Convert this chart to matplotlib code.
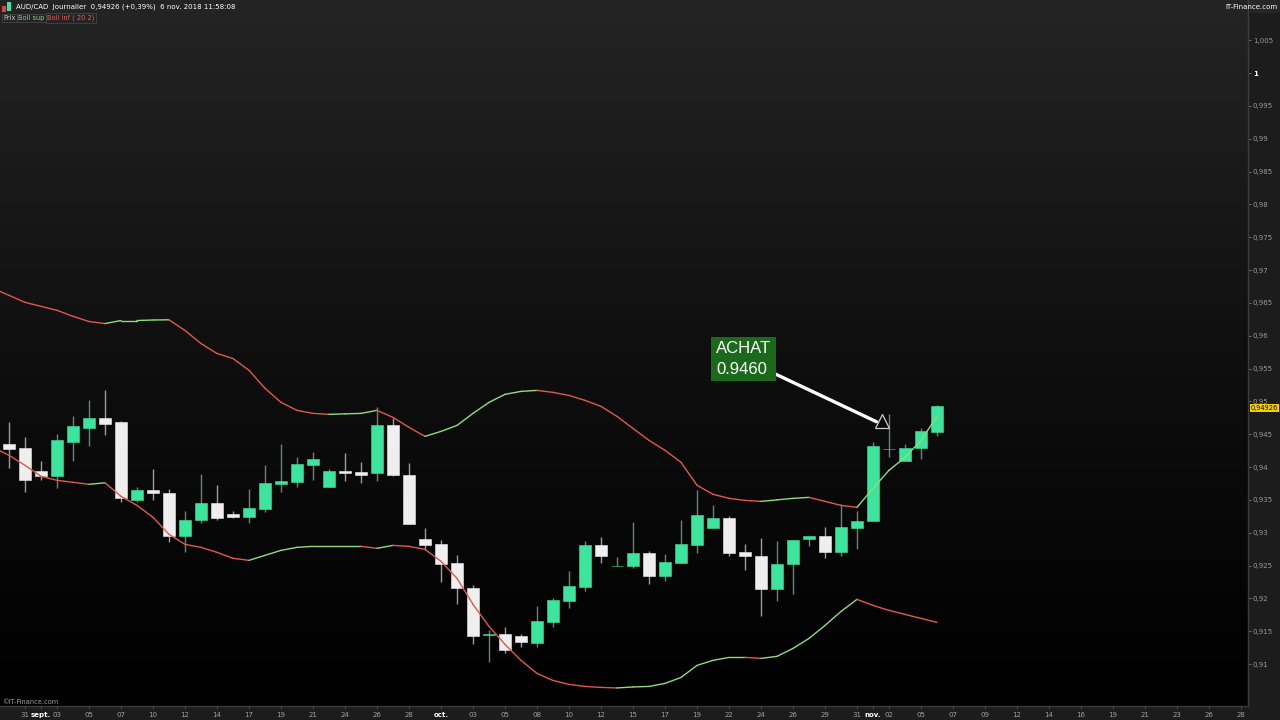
import matplotlib
matplotlib.use('Agg')
import matplotlib.pyplot as plt
import numpy as np
from matplotlib.collections import LineCollection
from matplotlib.patches import Rectangle
from matplotlib.colors import LinearSegmentedColormap
import matplotlib.transforms as mtransforms

plt.rcParams['font.family'] = ['DejaVu Sans']

# ---------------- data ----------------
opens = [0.94345, 0.94284, 0.93935, 0.93859, 0.94375, 0.94588, 0.9474, 0.94679, 0.93492, 0.93646,
         0.936, 0.92944, 0.93188, 0.93447, 0.9328, 0.93234, 0.93356, 0.93737, 0.93767, 0.94026,
         0.93691, 0.93935, 0.9392, 0.93904, 0.94634, 0.93874, 0.92898, 0.92822, 0.92533, 0.92152,
         0.91444, 0.91451, 0.91421, 0.91315, 0.91634, 0.91954, 0.92167, 0.92807, 0.92488, 0.92488,
         0.92685, 0.92335, 0.92533, 0.92807, 0.93065, 0.93219, 0.92701, 0.9264, 0.92137, 0.92518,
         0.92898, 0.92944, 0.92701, 0.93065, 0.93172, 0.94268, 0.94087, 0.94284, 0.9453]
highs = [0.94679, 0.94451, 0.94087, 0.94497, 0.94771, 0.95015, 0.95167, 0.94695, 0.93691, 0.93965,
         0.93661, 0.93325, 0.93889, 0.93722, 0.93325, 0.93661, 0.94026, 0.94345, 0.94147, 0.94223,
         0.93965, 0.94208, 0.94071, 0.94909, 0.9474, 0.94056, 0.93065, 0.92883, 0.92655, 0.92198,
         0.91512, 0.91558, 0.91451, 0.91878, 0.92, 0.92412, 0.92868, 0.92929, 0.92625, 0.93157,
         0.92716, 0.9267, 0.93188, 0.93646, 0.93416, 0.9325, 0.92822, 0.92914, 0.92868, 0.92883,
         0.92944, 0.93081, 0.93432, 0.93325, 0.94375, 0.94802, 0.94345, 0.94588, 0.94939]
lows = [0.9398, 0.93615, 0.93798, 0.93676, 0.94087, 0.94315, 0.94482, 0.93462, 0.93462, 0.93492,
        0.92853, 0.92701, 0.93143, 0.93188, 0.93219, 0.93143, 0.9331, 0.93615, 0.93691, 0.93798,
        0.93691, 0.93783, 0.93752, 0.93783, 0.93859, 0.93128, 0.92731, 0.92242, 0.91909, 0.91299,
        0.91024, 0.91161, 0.91252, 0.91252, 0.91558, 0.91848, 0.92106, 0.92533, 0.92488, 0.92457,
        0.92213, 0.92259, 0.92533, 0.92685, 0.93065, 0.9264, 0.92427, 0.91726, 0.91954, 0.92061,
        0.92792, 0.92609, 0.9264, 0.92746, 0.93172, 0.94147, 0.94087, 0.94117, 0.94467]
closes = [0.94269, 0.93798, 0.93859, 0.94406, 0.94619, 0.9474, 0.94649, 0.93523, 0.93646, 0.936,
          0.92944, 0.93188, 0.93447, 0.93219, 0.93234, 0.93371, 0.93752, 0.93783, 0.94041, 0.94117,
          0.93935, 0.93904, 0.93874, 0.94634, 0.93874, 0.93128, 0.92807, 0.92518, 0.92152, 0.91421,
          0.91451, 0.91207, 0.9133, 0.91649, 0.9197, 0.92182, 0.92807, 0.9264, 0.92495, 0.92685,
          0.92335, 0.92548, 0.92822, 0.93264, 0.93219, 0.92685, 0.9264, 0.92137, 0.92518, 0.92883,
          0.92944, 0.92701, 0.93081, 0.93172, 0.94315, 0.94275, 0.94284, 0.9455, 0.94926]

# Bollinger bands (20, 2), starting one bar before the first candle
band_start = -1
boll_sup = [0.96722, 0.96615, 0.96508, 0.96447, 0.96386, 0.96295, 0.96216, 0.96185, 0.96231, 0.96231,
            0.96239, 0.96242, 0.96079, 0.95881, 0.95729, 0.95653, 0.95473, 0.95199, 0.94985, 0.94863,
            0.94817, 0.94802, 0.9481, 0.94817, 0.94863, 0.94756, 0.94604, 0.94467, 0.94543, 0.94634,
            0.94817, 0.94985, 0.95107, 0.95152, 0.95167, 0.95137, 0.95091, 0.95015, 0.94924, 0.94771,
            0.94588, 0.94406, 0.94254, 0.94071, 0.93722, 0.93585, 0.93523, 0.93492, 0.93477, 0.935,
            0.93523, 0.93538, 0.93477, 0.93416, 0.93386, 0.93676, 0.9395, 0.94147, 0.94406, 0.94771]
boll_inf = [0.943, 0.94178, 0.94026, 0.93859, 0.93798, 0.93767, 0.93737, 0.9376, 0.93554, 0.93416,
            0.93234, 0.92975, 0.92822, 0.92777, 0.92701, 0.9261, 0.92579, 0.92655, 0.92731, 0.92777,
            0.92792, 0.92792, 0.92792, 0.92792, 0.92762, 0.92807, 0.92792, 0.92746, 0.92564, 0.92305,
            0.91909, 0.91574, 0.91299, 0.91056, 0.90857, 0.9075, 0.9069, 0.90659, 0.90644, 0.90636,
            0.90651, 0.90659, 0.90705, 0.90796, 0.90979, 0.91056, 0.91101, 0.91101, 0.91086, 0.91117,
            0.91238, 0.9139, 0.91588, 0.91801, 0.91985, 0.91893, 0.91817, 0.91756, 0.91695, 0.91634]

tick_idx = [1, 2, 3, 5, 7, 9, 11, 13, 15, 17, 19, 21, 23, 25, 27, 29, 31, 33, 35, 37, 39, 41,
            43, 45, 47, 49, 51, 53, 54, 55, 57, 59, 61, 63, 65, 67, 69, 71, 73, 75, 77]
tick_lbl = ['31', 'sept.', '03', '05', '07', '10', '12', '14', '17', '19', '21', '24', '26', '28',
            'oct.', '03', '05', '08', '10', '12', '15', '17', '19', '22', '24', '26', '29', '31',
            'nov.', '02', '05', '07', '09', '12', '14', '16', '19', '21', '23', '26', '28']
month_lbls = ['sept.', 'oct.', 'nov.']
y_ticks = [0.91, 0.915, 0.92, 0.925, 0.93, 0.935, 0.94, 0.945, 0.95, 0.955, 0.96, 0.965,
           0.97, 0.975, 0.98, 0.985, 0.99, 0.995, 1.0, 1.005]

buy_idx = 55
buy_price = 0.9460
last_price = 0.94926

# ---------------- style ----------------
GREEN = '#3de49c'
WHITE = '#efefef'
LINE_GREEN = '#8fdc7c'
LINE_RED = '#e0584e'

W, H = 1280, 720
fig = plt.figure(figsize=(12.8, 7.2), dpi=100, facecolor='#1c1c1c')
ax = fig.add_axes([0, 14 / H, 1248 / W, 706 / H])
ax.set_facecolor('black')

# gradient background
grad = np.linspace(0, 1, 256).reshape(-1, 1)
cmap_bg = LinearSegmentedColormap.from_list('bg', ['#000000', '#0f0f0f', '#242424'])
ax.imshow(grad, extent=[0, 1, 0, 1], transform=ax.transAxes, cmap=cmap_bg,
          aspect='auto', origin='lower', zorder=0, interpolation='bilinear')

# bands
def draw_band(vals):
    vals = np.asarray(vals)
    bx = np.arange(band_start, band_start + len(vals))
    pts = np.column_stack([bx, vals])
    segs = np.stack([pts[:-1], pts[1:]], axis=1)
    cols = [LINE_GREEN if vals[k + 1] >= vals[k] else LINE_RED for k in range(len(vals) - 1)]
    ax.add_collection(LineCollection(segs, colors=cols, linewidths=1.0, zorder=4,
                                     capstyle='round', joinstyle='round'))

draw_band(boll_sup)
draw_band(boll_inf)

# candles
bw = 0.74
for i, (o, h, l, c) in enumerate(zip(opens, highs, lows, closes)):
    up = c >= o
    col = GREEN if up else WHITE
    wick = '#5c8a74' if up else '#9c9c9c'
    ax.vlines(i, l, h, color=wick, lw=1.0, zorder=2)
    bot = min(o, c)
    ht = max(abs(c - o), 0.00012)
    ax.add_patch(Rectangle((i - bw / 2, bot), bw, ht, facecolor=col, edgecolor=col,
                           lw=0.4, zorder=3))

ax.set_xlim(-0.5625, 77.4375)
ax.set_ylim(0.90361, 1.01112)

# axes styling
for s in ['top', 'left']:
    ax.spines[s].set_visible(False)
for s in ['right', 'bottom']:
    ax.spines[s].set_color('#3c3c3c')
    ax.spines[s].set_linewidth(1.0)

def fmt(v):
    s = ('%.3f' % v).rstrip('0').rstrip('.')
    return s.replace('.', ',')

ax.yaxis.tick_right()
ax.set_yticks(y_ticks)
ax.set_yticklabels([fmt(v) for v in y_ticks])
ax.tick_params(axis='y', direction='out', length=2, width=0.6, colors='#7a7a7a',
               labelcolor='#9a9a9a', labelsize=5, pad=1.5)
for t in ax.get_yticklabels():
    if t.get_text() == '1':
        t.set_color('white')
        t.set_fontweight('bold')

ax.set_xticks(tick_idx)
ax.set_xticklabels(tick_lbl)
ax.tick_params(axis='x', direction='out', length=2, width=0.6, colors='#5a5a5a',
               labelcolor='#a0a0a0', labelsize=5, pad=2.5)
for t in ax.get_xticklabels():
    if t.get_text() in month_lbls:
        t.set_color('white')
        t.set_fontweight('bold')

# last price tag
ax.annotate(('%.5f' % last_price).replace('.', ','),
            xy=(1, last_price), xycoords=('axes fraction', 'data'),
            xytext=(2.2, -1.2), textcoords='offset points', ha='left', va='center',
            fontsize=4.8, color='black',
            bbox=dict(boxstyle='square,pad=0.12', fc='#f2cf00', ec='none'),
            annotation_clip=False, zorder=10)

# buy marker + annotation
off = mtransforms.ScaledTranslation(-7 / 100, 6.5 / 100, fig.dpi_scale_trans)
ax.plot([buy_idx], [buy_price], marker='^', ms=9.5, mfc='none', mec='#cfcfcf', mew=0.9,
        transform=ax.transData + off, zorder=7)
ax.annotate('ACHAT\n%.4f' % buy_price, xy=(buy_idx, buy_price), xycoords='data',
            xytext=(743.5, H - 359), textcoords='figure pixels',
            ha='center', va='center', multialignment='left', linespacing=1.45,
            fontsize=12, color='white', family=['Liberation Sans', 'DejaVu Sans'],
            bbox=dict(boxstyle='square,pad=0.28', fc='#1b6a1b', ec='none'),
            arrowprops=dict(arrowstyle='-', color='white', lw=2.4, shrinkA=0, shrinkB=10),
            zorder=8)

# header
def fx(px):
    return px / W

def fy(py):
    return 1 - py / H

fig.add_artist(Rectangle((fx(0), fy(13)), 1, 13 / H, transform=fig.transFigure,
                         facecolor='#262626', edgecolor='none', zorder=0))
fig.add_artist(Rectangle((fx(2), fy(12)), 4 / W, 6 / H, transform=fig.transFigure,
                         facecolor='#e04040', edgecolor='none'))
fig.add_artist(Rectangle((fx(7), fy(11)), 4 / W, 9 / H, transform=fig.transFigure,
                         facecolor='#3de49c', edgecolor='none'))
fig.text(fx(16), fy(7), 'AUD/CAD  Journalier  0,94926 (+0,39%)  6 nov. 2018 11:58:08',
         fontsize=5, color='white', va='center', ha='left')
fig.text(fx(1278), fy(7), 'IT-Finance.com', fontsize=5, color='white', va='center', ha='right')

box = dict(boxstyle='square,pad=0.2', fc='#242424', ec='#4a4a4a', lw=0.5)
fig.text(fx(3), fy(18), 'Prix', fontsize=4.8, color='#cfcfcf', va='center', ha='left', bbox=box)
fig.text(fx(18), fy(18), 'Boll sup', fontsize=4.8, color='#7fd67f', va='center', ha='left', bbox=box)
fig.text(fx(47), fy(18), 'Boll inf ( 20 2)', fontsize=4.8, color='#e06060', va='center', ha='left', bbox=box)

fig.text(fx(2), fy(702), '\u00a9IT-Finance.com', fontsize=4.8, color='#a0a0a0', va='center', ha='left')

fig.savefig('out.png', dpi=100, facecolor=fig.get_facecolor())
